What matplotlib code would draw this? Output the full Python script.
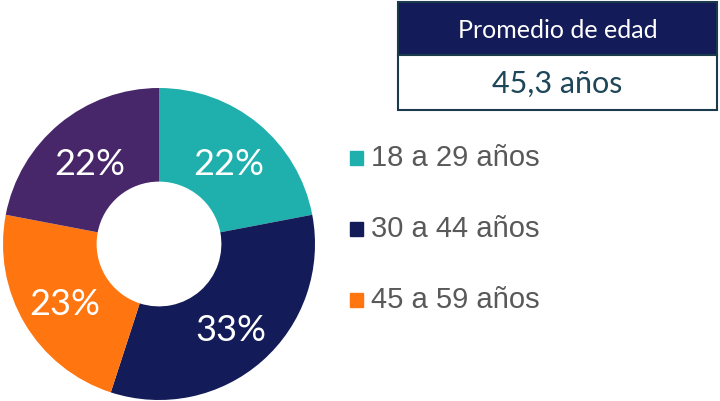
import matplotlib.pyplot as plt
from matplotlib.patches import Rectangle

# datos
grupos = ['18 a 29 años', '30 a 44 años', '45 a 59 años', '60 años y más']
valores = [22, 33, 23, 22]
colores = ['#1fafad', '#131b58', '#ff7510', '#47266a']
en_leyenda = 3
titulo_caja = 'Promedio de edad'
valor_caja = '45,3 años'

W, H = 720, 401
fig = plt.figure(figsize=(W / 100, H / 100), dpi=100)

def fx(x):
    return x / W

def fy(y):
    return 1 - y / H

# donut: centro (159, 244), radio 156 px
cx, cy, r = 159, 244, 156
ax = fig.add_axes([fx(cx - r), fy(cy + r), 2 * r / W, 2 * r / H])
wedges, textos, pcts = ax.pie(
    valores, colors=colores, startangle=90, counterclock=False,
    autopct='%d%%', pctdistance=0.70, radius=1,
    wedgeprops=dict(width=0.60, linewidth=0),
    textprops=dict(color='white', fontsize=26, family='Lato'))
for t in textos:
    t.set_text('')
for p in pcts:
    x, y = p.get_position()
    p.set_position((x, y - 0.03))
ax.set_xlim(-1, 1)
ax.set_ylim(-1, 1)
ax.set_aspect('equal')
ax.axis('off')

# leyenda a mano
ys = [158, 229, 300]
for i in range(en_leyenda):
    fig.patches.append(Rectangle((fx(350), fy(ys[i] + 7)), 13 / W, 14 / H,
                                 transform=fig.transFigure, color=colores[i]))
    fig.text(fx(371), fy(ys[i]), grupos[i], fontsize=21, color='#595959',
             family='Liberation Sans', va='center', ha='left')

# caja de promedio
x0, x1 = 398, 717
fig.patches.append(Rectangle((fx(x0), fy(55)), (x1 - x0) / W, 53 / H,
                             transform=fig.transFigure, facecolor='#131b58',
                             edgecolor='#1b3a4b', linewidth=1.5))
fig.patches.append(Rectangle((fx(x0), fy(110)), (x1 - x0) / W, 55 / H,
                             transform=fig.transFigure, facecolor='white',
                             edgecolor='#1b3a4b', linewidth=1.5))
fig.text(fx((x0 + x1) / 2), fy(30), titulo_caja, fontsize=18, color='white',
         family='Lato', ha='center', va='center')
fig.text(fx((x0 + x1) / 2), fy(84), valor_caja, fontsize=22, color='#1d4659',
         family='Lato', ha='center', va='center')

fig.savefig('out.png', dpi=100)
